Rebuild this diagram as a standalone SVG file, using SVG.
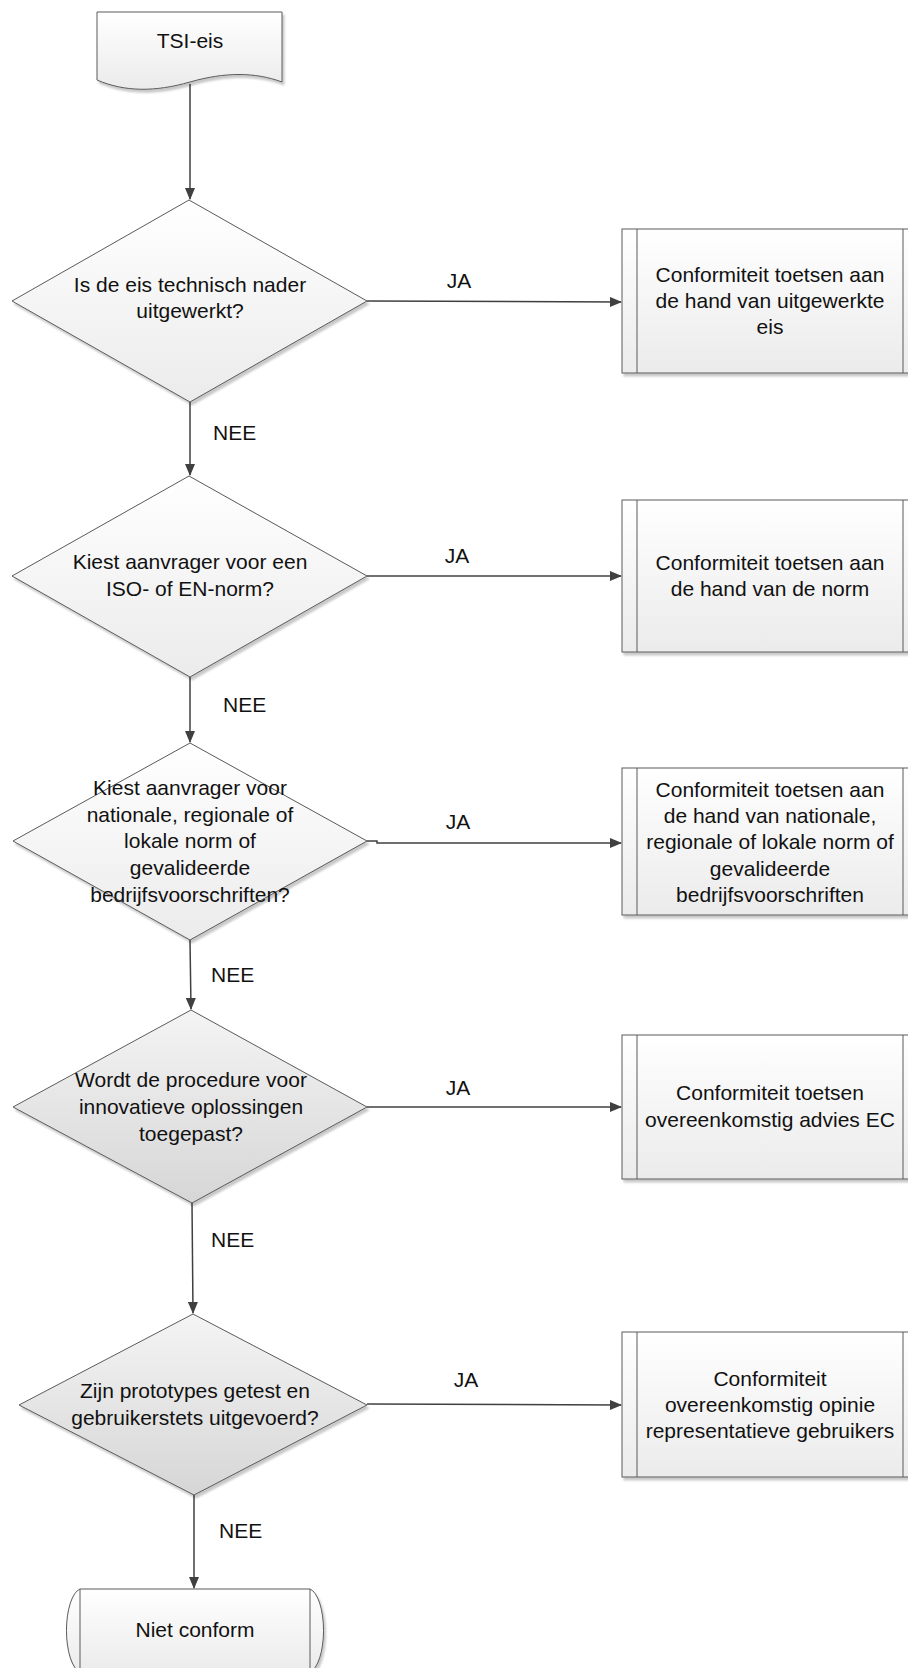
<svg xmlns="http://www.w3.org/2000/svg" width="908" height="1668" viewBox="0 0 908 1668">
<style>
  .shape { stroke: #5a5a5a; stroke-width: 1; }
  .light { fill: url(#gLight); }
  .dark { fill: url(#gDark); }
  .band { fill: none; stroke: #5a5a5a; stroke-width: 1; }
  .t { font-family: "Liberation Sans", Arial, sans-serif; font-size: 21px; fill: #111; }
  .c { text-anchor: middle; }
  .conn { fill: none; stroke: #404040; stroke-width: 1.5; }
</style>
<defs>
  <linearGradient id="gLight" x1="0" y1="0" x2="0" y2="1">
    <stop offset="0" stop-color="#ffffff"/>
    <stop offset="1" stop-color="#ebebeb"/>
  </linearGradient>
  <linearGradient id="gDark" x1="0" y1="0" x2="0" y2="1">
    <stop offset="0" stop-color="#f4f4f4"/>
    <stop offset="1" stop-color="#d6d6d6"/>
  </linearGradient>
  <filter id="sh" x="-10%" y="-10%" width="130%" height="130%">
    <feGaussianBlur in="SourceAlpha" stdDeviation="1.2"/>
    <feOffset dx="2" dy="3" result="b"/>
    <feComponentTransfer><feFuncA type="linear" slope="0.22"/></feComponentTransfer>
    <feMerge><feMergeNode/><feMergeNode in="SourceGraphic"/></feMerge>
  </filter>
  <marker id="arr" markerWidth="12" markerHeight="10" refX="11" refY="5" orient="auto" markerUnits="userSpaceOnUse">
    <path d="M0,0 L12,5 L0,10 Z" fill="#404040"/>
  </marker>
</defs>

<g id="connectors">
  <path class="conn" d="M190,84 L190,199" marker-end="url(#arr)"/>
  <path class="conn" d="M367,301 L621,302" marker-end="url(#arr)"/>
  <path class="conn" d="M190,402 L190,475" marker-end="url(#arr)"/>
  <path class="conn" d="M367,576 L621,576" marker-end="url(#arr)"/>
  <path class="conn" d="M190,677 L190,742" marker-end="url(#arr)"/>
  <path class="conn" d="M367,841 L377,841 L377,843 L621,843" marker-end="url(#arr)"/>
  <path class="conn" d="M190,940 L191,1009" marker-end="url(#arr)"/>
  <path class="conn" d="M367,1107 L621,1107" marker-end="url(#arr)"/>
  <path class="conn" d="M192,1203 L193,1313" marker-end="url(#arr)"/>
  <path class="conn" d="M367,1404 L621,1405" marker-end="url(#arr)"/>
  <path class="conn" d="M194,1495 L194,1588" marker-end="url(#arr)"/>
  <text class="t c" x="459" y="288">JA</text>
  <text class="t" x="213" y="440">NEE</text>
  <text class="t c" x="457" y="563">JA</text>
  <text class="t" x="223" y="712">NEE</text>
  <text class="t c" x="458" y="829">JA</text>
  <text class="t" x="211" y="982">NEE</text>
  <text class="t c" x="458" y="1095">JA</text>
  <text class="t" x="211" y="1247">NEE</text>
  <text class="t c" x="466" y="1387">JA</text>
  <text class="t" x="219" y="1538">NEE</text>
</g>

<g id="start">
  <path class="shape light" filter="url(#sh)" d="M97,12 L282,12 L282,82 C255,72 225,72 190,82 C155,92 125,92 97,80 Z"/>
  <text class="t c" x="190" y="48">TSI-eis</text>
</g>

<g id="d1">
  <path class="shape light" filter="url(#sh)" d="M189,200 L367,301 L190,402 L12,301 Z"/>
  <text class="t c" x="190" y="292">Is de eis technisch nader</text>
  <text class="t c" x="190" y="318">uitgewerkt?</text>
</g>

<g id="b1">
  <rect class="shape light" filter="url(#sh)" x="622" y="229" width="296" height="144"/>
  <line class="band" x1="637" y1="229" x2="637" y2="373"/>
  <line class="band" x1="903" y1="229" x2="903" y2="373"/>
  <text class="t c" x="770" y="282">Conformiteit toetsen aan</text>
  <text class="t c" x="770" y="308">de hand van uitgewerkte</text>
  <text class="t c" x="770" y="334">eis</text>
</g>

<g id="d2">
  <path class="shape light" filter="url(#sh)" d="M189,476 L367,576 L190,677 L12,576 Z"/>
  <text class="t c" x="190" y="569">Kiest aanvrager voor een</text>
  <text class="t c" x="190" y="596">ISO- of EN-norm?</text>
</g>

<g id="b2">
  <rect class="shape light" filter="url(#sh)" x="622" y="500" width="296" height="152"/>
  <line class="band" x1="637" y1="500" x2="637" y2="652"/>
  <line class="band" x1="903" y1="500" x2="903" y2="652"/>
  <text class="t c" x="770" y="570">Conformiteit toetsen aan</text>
  <text class="t c" x="770" y="596">de hand van de norm</text>
</g>

<g id="d3">
  <path class="shape light" filter="url(#sh)" d="M190,743 L367,841 L190,940 L13,841 Z"/>
  <text class="t c" x="190" y="795">Kiest aanvrager voor</text>
  <text class="t c" x="190" y="822">nationale, regionale of</text>
  <text class="t c" x="190" y="848">lokale norm of</text>
  <text class="t c" x="190" y="875">gevalideerde</text>
  <text class="t c" x="190" y="902">bedrijfsvoorschriften?</text>
</g>

<g id="b3">
  <rect class="shape light" filter="url(#sh)" x="622" y="768" width="296" height="147"/>
  <line class="band" x1="637" y1="768" x2="637" y2="915"/>
  <line class="band" x1="903" y1="768" x2="903" y2="915"/>
  <text class="t c" x="770" y="797">Conformiteit toetsen aan</text>
  <text class="t c" x="770" y="823">de hand van nationale,</text>
  <text class="t c" x="770" y="849">regionale of lokale norm of</text>
  <text class="t c" x="770" y="876">gevalideerde</text>
  <text class="t c" x="770" y="902">bedrijfsvoorschriften</text>
</g>

<g id="d4">
  <path class="shape dark" filter="url(#sh)" d="M191,1010 L367,1107 L192,1203 L13,1107 Z"/>
  <text class="t c" x="191" y="1087">Wordt de procedure voor</text>
  <text class="t c" x="191" y="1114">innovatieve oplossingen</text>
  <text class="t c" x="191" y="1141">toegepast?</text>
</g>

<g id="b4">
  <rect class="shape light" filter="url(#sh)" x="622" y="1035" width="296" height="144"/>
  <line class="band" x1="637" y1="1035" x2="637" y2="1179"/>
  <line class="band" x1="903" y1="1035" x2="903" y2="1179"/>
  <text class="t c" x="770" y="1100">Conformiteit toetsen</text>
  <text class="t c" x="770" y="1127">overeenkomstig advies EC</text>
</g>

<g id="d5">
  <path class="shape dark" filter="url(#sh)" d="M193,1314 L367,1405 L194,1495 L19,1405 Z"/>
  <text class="t c" x="195" y="1398">Zijn prototypes getest en</text>
  <text class="t c" x="195" y="1425">gebruikerstets uitgevoerd?</text>
</g>

<g id="b5">
  <rect class="shape light" filter="url(#sh)" x="622" y="1332" width="296" height="145"/>
  <line class="band" x1="637" y1="1332" x2="637" y2="1477"/>
  <line class="band" x1="903" y1="1332" x2="903" y2="1477"/>
  <text class="t c" x="770" y="1386">Conformiteit</text>
  <text class="t c" x="770" y="1412">overeenkomstig opinie</text>
  <text class="t c" x="770" y="1438">representatieve gebruikers</text>
</g>

<g id="end">
  <path class="shape light" filter="url(#sh)" d="M80,1589 L310,1589 A16,42 0 0 1 310,1672 L80,1672 A16,42 0 0 1 80,1589 Z"/>
  <line class="band" x1="80" y1="1589" x2="80" y2="1672"/>
  <line class="band" x1="310" y1="1589" x2="310" y2="1672"/>
  <text class="t c" x="195" y="1637">Niet conform</text>
</g>
</svg>
